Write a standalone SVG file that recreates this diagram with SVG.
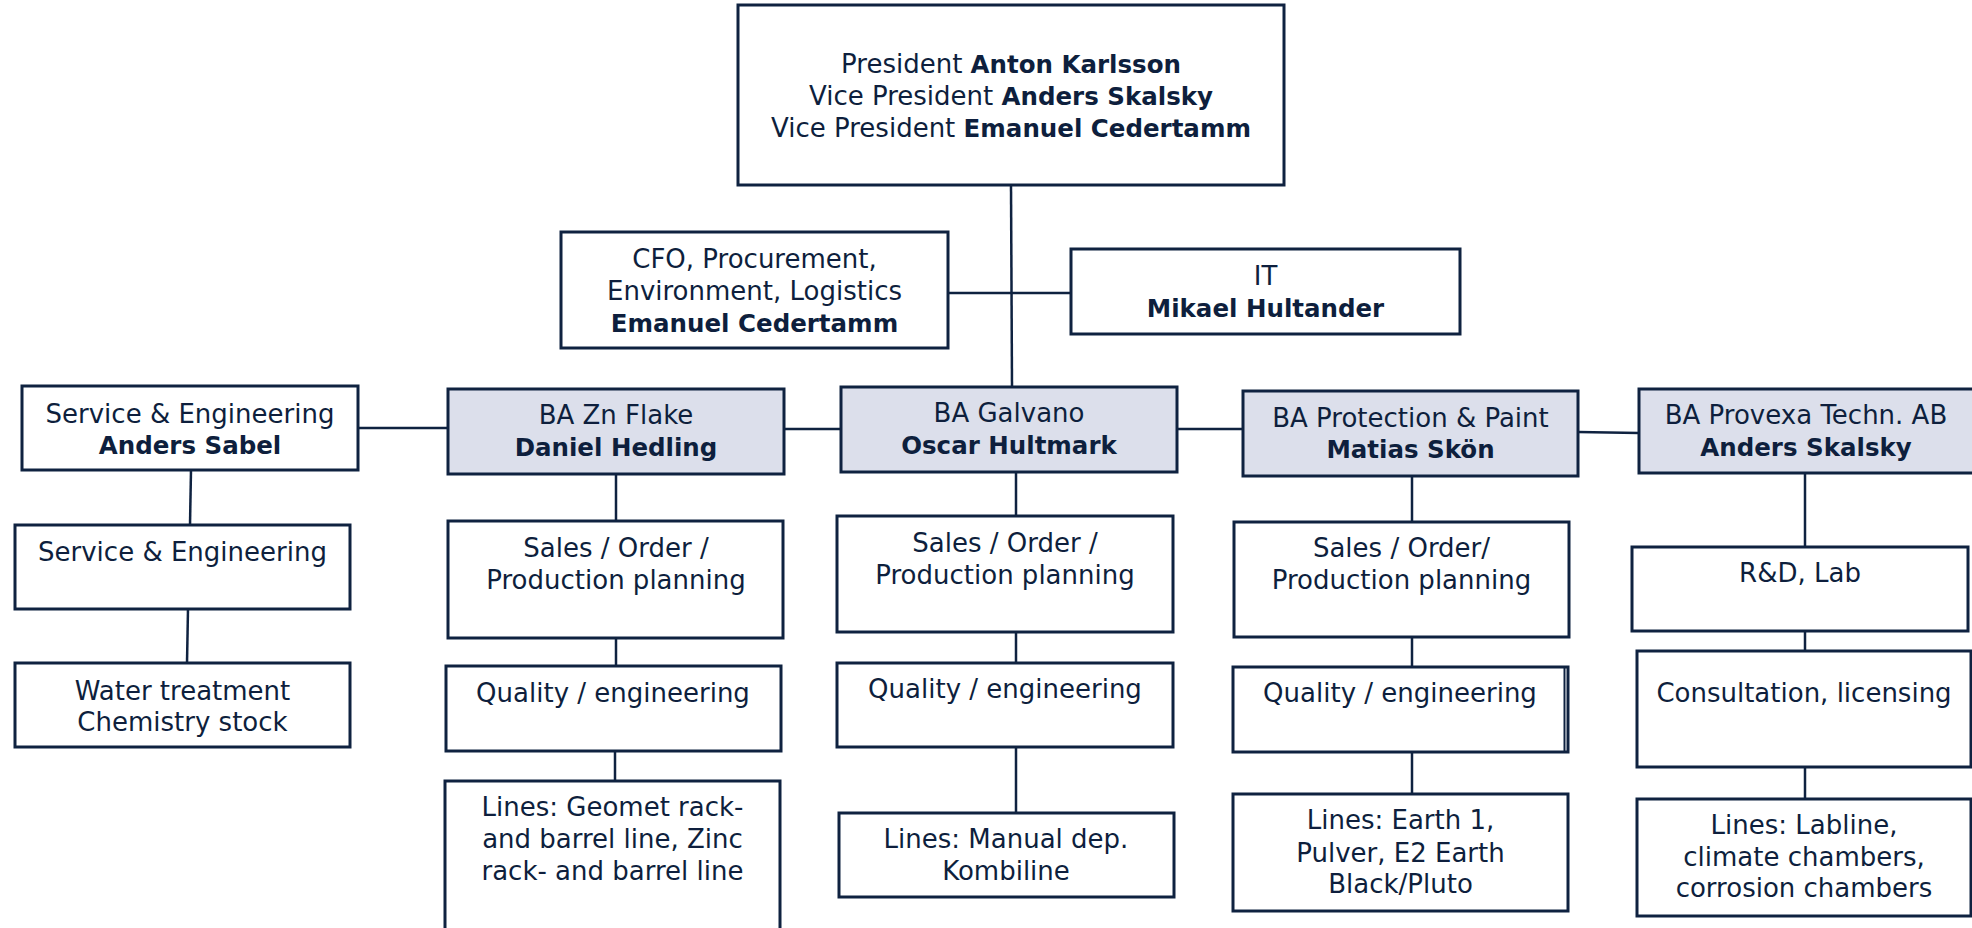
<svg xmlns="http://www.w3.org/2000/svg" width="1972" height="928" viewBox="0 0 1972 928">
<style>
  .box { fill: #ffffff; stroke: #0f2240; stroke-width: 3; }
  .ba { fill: #dcdfeb; stroke: #0f2240; stroke-width: 3; }
  .t { font-family: "DejaVu Sans", "Liberation Sans", sans-serif; font-size: 26px; fill: #0e1f3d; text-anchor: middle; }
  .b { font-weight: bold; font-size: 24.5px; }
  .conn line { stroke: #0f2240; stroke-width: 2.5; fill: none; }
</style>
<rect x="0" y="0" width="1972" height="928" fill="#ffffff"/>

<g class="conn" id="connectors">
  <line x1="1011" y1="185" x2="1012" y2="387"/>
  <line x1="948" y1="293" x2="1071" y2="293"/>
  <line x1="358" y1="428" x2="448" y2="428"/>
  <line x1="784" y1="429" x2="841" y2="429"/>
  <line x1="1177" y1="429" x2="1243" y2="429"/>
  <line x1="1578" y1="432" x2="1639" y2="433"/>
  <line x1="191" y1="470" x2="190" y2="525"/>
  <line x1="188" y1="609" x2="187" y2="663"/>
  <line x1="616" y1="474" x2="616" y2="521"/>
  <line x1="616" y1="638" x2="616" y2="666"/>
  <line x1="615" y1="751" x2="615" y2="781"/>
  <line x1="1016" y1="472" x2="1016" y2="516"/>
  <line x1="1016" y1="632" x2="1016" y2="663"/>
  <line x1="1016" y1="747" x2="1016" y2="813"/>
  <line x1="1412" y1="476" x2="1412" y2="522"/>
  <line x1="1412" y1="637" x2="1412" y2="667"/>
  <line x1="1412" y1="752" x2="1412" y2="794"/>
  <line x1="1805" y1="473" x2="1805" y2="547"/>
  <line x1="1805" y1="631" x2="1805" y2="651"/>
  <line x1="1805" y1="767" x2="1805" y2="799"/>
</g>

<g id="president">
  <rect class="box" x="738" y="5" width="546" height="180"/>
  <text class="t" x="1011" y="73">President <tspan class="b">Anton Karlsson</tspan></text>
  <text class="t" x="1011" y="105">Vice President <tspan class="b">Anders Skalsky</tspan></text>
  <text class="t" x="1011" y="137">Vice President <tspan class="b">Emanuel Cedertamm</tspan></text>
</g>

<g id="cfo">
  <rect class="box" x="561" y="232" width="387" height="116"/>
  <text class="t" x="754.5" y="268">CFO, Procurement,</text>
  <text class="t" x="754.5" y="300">Environment, Logistics</text>
  <text class="t b" x="754.5" y="332">Emanuel Cedertamm</text>
</g>

<g id="it">
  <rect class="box" x="1071" y="249" width="389" height="85"/>
  <text class="t" x="1265.5" y="285">IT</text>
  <text class="t b" x="1265.5" y="317">Mikael Hultander</text>
</g>

<g id="service-head">
  <rect class="box" x="22" y="386" width="336" height="84"/>
  <text class="t" x="190" y="423">Service &amp; Engineering</text>
  <text class="t b" x="190" y="454">Anders Sabel</text>
</g>

<g id="ba-znflake">
  <rect class="ba" x="448" y="389" width="336" height="85"/>
  <text class="t" x="616" y="424">BA Zn Flake</text>
  <text class="t b" x="616" y="456">Daniel Hedling</text>
</g>

<g id="ba-galvano">
  <rect class="ba" x="841" y="387" width="336" height="85"/>
  <text class="t" x="1009" y="422">BA Galvano</text>
  <text class="t b" x="1009" y="454">Oscar Hultmark</text>
</g>

<g id="ba-protection">
  <rect class="ba" x="1243" y="391" width="335" height="85"/>
  <text class="t" x="1410.5" y="427">BA Protection &amp; Paint</text>
  <text class="t b" x="1410.5" y="458">Matias Skön</text>
</g>

<g id="ba-provexa">
  <rect class="ba" x="1639" y="389" width="336" height="84"/>
  <text class="t" x="1806" y="424">BA Provexa Techn. AB</text>
  <text class="t b" x="1806" y="456">Anders Skalsky</text>
</g>

<g id="service-eng">
  <rect class="box" x="15" y="525" width="335" height="84"/>
  <text class="t" x="182.5" y="561">Service &amp; Engineering</text>
</g>

<g id="water">
  <rect class="box" x="15" y="663" width="335" height="84"/>
  <text class="t" x="182.5" y="700">Water treatment</text>
  <text class="t" x="182.5" y="731">Chemistry stock</text>
</g>

<g id="zn-sales">
  <rect class="box" x="448" y="521" width="335" height="117"/>
  <text class="t" x="616" y="557">Sales / Order /</text>
  <text class="t" x="616" y="589">Production planning</text>
</g>

<g id="zn-quality">
  <rect class="box" x="446" y="666" width="335" height="85"/>
  <text class="t" x="613" y="702">Quality / engineering</text>
</g>

<g id="zn-lines">
  <rect class="box" x="445" y="781" width="335" height="160"/>
  <text class="t" x="612.5" y="816">Lines: Geomet rack-</text>
  <text class="t" x="612.5" y="848">and barrel line, Zinc</text>
  <text class="t" x="612.5" y="880">rack- and barrel line</text>
</g>

<g id="gal-sales">
  <rect class="box" x="837" y="516" width="336" height="116"/>
  <text class="t" x="1005" y="552">Sales / Order /</text>
  <text class="t" x="1005" y="584">Production planning</text>
</g>

<g id="gal-quality">
  <rect class="box" x="837" y="663" width="336" height="84"/>
  <text class="t" x="1005" y="698">Quality / engineering</text>
</g>

<g id="gal-lines">
  <rect class="box" x="839" y="813" width="335" height="84"/>
  <text class="t" x="1006" y="848">Lines: Manual dep.</text>
  <text class="t" x="1006" y="880">Kombiline</text>
</g>

<g id="prot-sales">
  <rect class="box" x="1234" y="522" width="335" height="115"/>
  <text class="t" x="1401.5" y="557">Sales / Order/</text>
  <text class="t" x="1401.5" y="589">Production planning</text>
</g>

<g id="prot-quality">
  <rect class="box" x="1233" y="667" width="335" height="85"/>
  <line x1="1564.5" y1="667" x2="1564.5" y2="752" stroke="#0f2240" stroke-width="2"/>
  <text class="t" x="1400" y="702">Quality / engineering</text>
</g>

<g id="prot-lines">
  <rect class="box" x="1233" y="794" width="335" height="117"/>
  <text class="t" x="1400.5" y="829">Lines: Earth 1,</text>
  <text class="t" x="1400.5" y="862">Pulver, E2 Earth</text>
  <text class="t" x="1400.5" y="893">Black/Pluto</text>
</g>

<g id="rd-lab">
  <rect class="box" x="1632" y="547" width="336" height="84"/>
  <text class="t" x="1800" y="582">R&amp;D, Lab</text>
</g>

<g id="consultation">
  <rect class="box" x="1637" y="651" width="334" height="116"/>
  <text class="t" x="1804" y="702">Consultation, licensing</text>
</g>

<g id="labline">
  <rect class="box" x="1637" y="799" width="334" height="117"/>
  <text class="t" x="1804" y="834">Lines: Labline,</text>
  <text class="t" x="1804" y="866">climate chambers,</text>
  <text class="t" x="1804" y="897">corrosion chambers</text>
</g>
</svg>
